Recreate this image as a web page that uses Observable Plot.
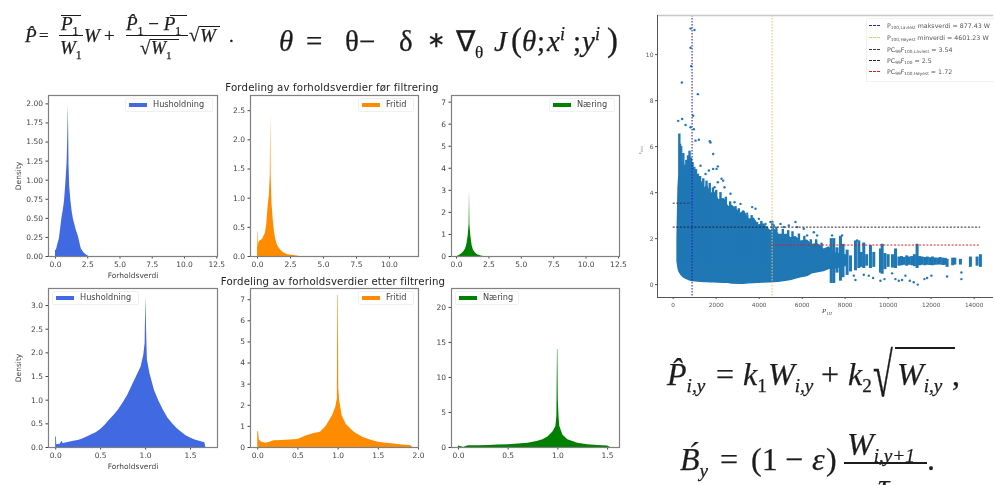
<!DOCTYPE html>
<html lang="no"><head><meta charset="utf-8">
<script src="https://cdn.jsdelivr.net/npm/d3@7"></script>
<script src="https://cdn.jsdelivr.net/npm/@observablehq/plot@0.6"></script>
<style>
html,body{margin:0;padding:0;background:#fff;width:994px;height:485px;overflow:hidden}
#root{position:relative;width:994px;height:485px;overflow:hidden;filter:blur(.5px);font-family:"DejaVu Sans",sans-serif;color:#333}
.p{position:absolute}.p svg{display:block;background:transparent;overflow:visible}
.abs{position:absolute;white-space:nowrap}
.title{font-size:10.2px;color:#222;transform:translateX(-50%);letter-spacing:.15px}
.lg{position:absolute;height:14px;background:#fff;border:1px solid #f0f0f0;border-radius:2px;font-size:8.2px;color:#444;box-sizing:border-box}
.lg i{position:absolute;left:3px;top:3.5px;width:18px;height:4px}
.lg span{position:absolute;left:27px;top:0;line-height:11px;white-space:nowrap}
.sc{position:absolute;left:866px;top:18px;width:127px;height:62px;background:#fff;border:1px solid #f2f2f2;font-size:6.3px;color:#555}
.sc div{position:absolute;left:20px;white-space:nowrap;line-height:9px}
.sc b{position:absolute;left:-18px;top:4px;width:11px;border-top:1.3px dashed}
.sc sub{font-size:4.3px;vertical-align:-1px;line-height:0}
.m{font-family:"Liberation Serif",serif;color:#1c1c1c;position:absolute;white-space:nowrap;line-height:1;-webkit-text-stroke:.25px #1c1c1c}
.m em{font-style:italic}.m sub,.m sup{line-height:0}
</style></head><body><div id="root"></div>
<script>
// ---- histograms before filtering
const husBeforeX=[0,.05,.1,.2,.3,.4,.5,.6,.7,.8,.9,.95,1,1.05,1.1,1.2,1.3,1.4,1.5,1.6,1.7,1.8,1.9,2,2.2,2.4,2.6];
const husBeforeY=[.08,.08,.1,.17,.23,.36,.5,.6,.72,.95,1.22,1.54,2,1.2,.92,.72,.58,.48,.42,.35,.3,.25,.17,.1,.05,.02,0];
const friBeforeX=[0,.03,.06,.1,.2,.3,.4,.5,.6,.7,.8,.9,.97,1,1.03,1.1,1.2,1.3,1.4,1.5,1.6,1.8,2,2.3,2.6,3,3.2];
const friBeforeY=[.42,.42,.15,.24,.27,.28,.3,.35,.4,.55,.85,1.05,1.4,2.45,1.4,.9,.6,.4,.28,.2,.16,.1,.06,.03,.02,.01,0];
const naeBeforeX=[.1,.2,.3,.4,.5,.6,.7,.8,.9,.97,1,1.03,1.1,1.2,1.3,1.4,1.5,1.6,1.7,1.8,1.9,2,2.1];
const naeBeforeY=[.02,.04,.08,.12,.18,.25,.35,.55,.95,1.45,3,1.45,.95,.5,.3,.2,.14,.09,.06,.04,.02,.01,0];
// ---- histograms after filtering
const husAfterX=[0,.008,.012,.05,.07,.085,.1,.15,.2,.25,.3,.35,.4,.45,.5,.55,.6,.65,.7,.75,.8,.85,.9,.95,.98,.995,1.003,1.012,1.02,1.05,1.1,1.15,1.2,1.25,1.3,1.35,1.4,1.45,1.5,1.55,1.6,1.66,1.67];
const husAfterY=[.22,.22,.06,.07,.13,.08,.09,.11,.13,.15,.18,.22,.27,.31,.38,.47,.58,.68,.8,.94,1.1,1.3,1.5,1.7,1.95,2.2,3.2,2.4,1.85,1.55,1.2,.97,.78,.62,.5,.4,.32,.25,.2,.16,.13,.1,0];
const friAfterX=[0,.01,.02,.05,.1,.15,.2,.3,.4,.5,.6,.7,.78,.85,.93,.97,.99,.996,1.002,1.008,1.02,1.05,1.1,1.2,1.3,1.4,1.5,1.6,1.7,1.8,1.9,1.93];
const friAfterY=[.75,.75,.35,.25,.2,.25,.32,.33,.36,.38,.55,.66,.72,1,1.5,1.9,2.3,7.2,7.2,2.8,2.2,1.5,1.1,.72,.5,.35,.25,.2,.16,.12,.1,0];
const naeAfterX=[0,.03,.05,.1,.2,.3,.4,.5,.6,.7,.8,.85,.9,.95,.98,.99,.996,1,1.004,1.012,1.02,1.05,1.1,1.2,1.3,1.4,1.5,1.53];
const naeAfterY=[.2,.1,0,.25,.25,.3,.35,.4,.5,.6,.9,1.1,1.5,2.2,3,4.5,14,14,7,4.3,3,1.8,1.1,.6,.4,.3,.2,0];
// ---- scatter: dense body, spikes, columns and single points
const bodyX=[217,263,290,310,400,496,650,806,900,1039,1150,1300,1450,1581,1750,1900,2100,2356,2550,2750,3131,3300,3500,3751,3950,4200,4526,4681,4900,5301,5456,5700,5921,6231,6450,6696,7006,7250,7471,7781,8091];
const bodyHi=[2,4.2,4.6,4.7,4.7,4.75,4.8,4.85,4.7,4.75,4.4,4.45,4.15,4.25,3.9,4.0,3.65,3.7,3.35,3.4,3.05,3.15,2.8,2.85,2.55,2.6,2.3,2.4,2.15,2.15,2.0,2.05,1.85,1.9,1.7,1.75,1.5,1.6,1.35,1.3,1.25];
const bodyLo=[1,.7,.6,.55,.42,.33,.25,.19,.17,.16,.15,.14,.13,.12,.11,.11,.1,.09,.09,.06,.05,.05,.07,.08,.09,.1,.11,.12,.14,.19,.21,.28,.33,.38,.5,.55,.6,.7,.7,.76,.84];
const spikeX=[285,320,370,420,470,530,610,690,760,830,900,980,1060,1150,1250,1400,1550,1700,1850,2000,2200,2450,2650,2900,3050,3250,3450,3650,3900,4100,4350,4610,4800,5100,5350,5550,5850,6100,6400,6650,6900];
const spikeTop=[6.55,6.1,6.0,5.3,5.7,5.2,5.4,5.6,5.8,5.5,5.3,5.1,5.0,4.8,4.7,4.6,4.5,4.4,4.2,4.1,4.0,3.8,3.6,3.4,3.3,3.2,3.0,3.0,2.7,2.75,2.5,2.75,2.5,2.4,2.35,2.3,2.2,2.1,1.95,1.95,1.8];
const spikeBase=1;
const colX=[7350,7471,7620,7781,7900,8091,8250,8478,8634,8750,8866,9000,9176,9331,9641,9720,9850,10000,10200,10340,10500,10620,10740,10860,10980,11100,11220,11346,11460,11580,11700,11820,11940,12060,12180,12300,12420,12540,12660,12741,13000,13100,13361,13826,14136,14291];
const colLo=[.05,.05,.5,.15,.3,.4,.55,.6,.7,.75,.7,.8,.7,.75,.5,.45,.65,.75,.72,.7,.8,.82,.84,.8,.84,.82,.78,.7,.82,.84,.82,.84,.83,.82,.84,.85,.85,.83,.84,.75,.82,.85,.85,.75,.8,.75];
const colHi=[2,2,1.6,2.1,1.75,1.5,1.25,1.9,1.9,1.4,1.8,1.3,1.7,1.4,1.55,1.75,1.35,1.3,1.3,1.55,1.2,1.22,1.18,1.25,1.2,1.22,1.3,1.75,1.22,1.2,1.18,1.2,1.17,1.2,1.16,1.15,1.18,1.15,1.14,1.1,1.15,1.15,1.1,1.2,1.2,1.3];
const dotX=[806,992,806,837,403,1147,930,232,418,574,806,961,1705,1736,1194,1039,1860,2077,2015,1860,1659,1504,1271,2248,2325,2077,1922,2387,2666,2852,3131,3674,3829,3441,3984,4294,4526,4681,4991,5146,5378,5688,5766,6076,6231,6541,6696,7393,7858,8556,8866,9718,11346,8401,8478,8866,9098,9300,9641,9827,10183,10338,10493,10648,10803,11005,11191,11377,11687,11811,12012,12741,13407,13407];
const dotY=[11.13,11.07,10.3,9.5,8.79,8.28,7.34,7.12,7.2,6.94,6.84,6.76,6.23,6.18,6.3,6.26,5.68,5.14,5.03,5.03,4.96,4.81,5.17,4.6,4.52,4.45,4.23,4.23,3.95,3.58,3.51,3.37,3.3,3.08,2.86,2.64,2.72,2.57,2.64,2.5,2.57,2.72,2.5,2.43,2.14,2.28,2.14,2.14,2.14,1.92,1.78,1.73,1.73,.39,.2,.43,.39,.29,.17,.24,.49,.24,.17,.2,.39,.17,.1,0,.24,.29,.39,.35,.53,.24];
const maxLow=877.43,minHigh=4601.23,pcLow=3.54,pcAll=2.5,pcHigh=1.72,dataEnd=14300;
const tenTicks=[0,2.5,5,7.5,10,12.5];
const root=document.getElementById("root");
const rows=(xs,ys)=>xs.map((x,i)=>({x,y:ys[i]}));
const F="DejaVu Sans";
function place(node,left,top){const d=document.createElement("div");d.className="p";d.style.left=left+"px";d.style.top=top+"px";d.append(node);root.append(d);}
function hist({l,t,w,h,ml,xd,yd,xt,yt,xf=".1f",yf=".1f",xs,ys,color,xl=null,yl=null}){
  const mr=14,mt=4,mb=24;
  place(Plot.plot({width:ml+w+mr,height:mt+h+mb,marginLeft:ml,marginRight:mr,marginTop:mt,marginBottom:mb,
    style:{fontFamily:F,fontSize:"7.5px",color:"#444",background:"transparent"},
    x:{domain:xd,ticks:xt,tickFormat:d3.format(xf),tickSize:2.5,tickPadding:3,label:xl,labelAnchor:"center",labelArrow:"none",labelOffset:21},
    y:{domain:yd,ticks:yt,tickFormat:d3.format(yf),tickSize:2.5,tickPadding:3,label:yl,labelAnchor:"center",labelArrow:"none",labelOffset:33},
    marks:[Plot.areaY(rows(xs,ys),{x:"x",y:"y",curve:"linear",fill:color,clip:true}),Plot.frame({stroke:"#808080",strokeWidth:1.2})]}),l-ml,t-mt);
}
hist({l:48,t:95,w:169,h:161,ml:48,xd:[-.54,12.56],yd:[0,2.11],xt:tenTicks,yt:[0,.25,.5,.75,1,1.25,1.5,1.75,2],yf:".2f",xs:husBeforeX,ys:husBeforeY,color:"#4169e1",xl:"Forholdsverdi",yl:"Density"});
hist({l:250,t:95,w:168,h:161,ml:30,xd:[-.53,12.2],yd:[0,2.76],xt:[0,2.5,5,7.5,10],yt:[0,.5,1,1.5,2,2.5],xs:friBeforeX,ys:friBeforeY,color:"#ff8c00"});
hist({l:451,t:95,w:168,h:161,ml:30,xd:[-.39,12.58],yd:[0,7.3],xt:tenTicks,yt:[0,1,2,3,4,5,6,7],yf:"d",xs:naeBeforeX,ys:naeBeforeY,color:"#008000"});
hist({l:48,t:288,w:169,h:159,ml:48,xd:[-.08,1.8],yd:[0,3.36],xt:[0,.5,1,1.5],yt:[0,.5,1,1.5,2,2.5,3],xs:husAfterX,ys:husAfterY,color:"#4169e1",xl:"Forholdsverdi",yl:"Density"});
hist({l:250,t:288,w:168,h:159,ml:30,xd:[-.09,2],yd:[0,7.53],xt:[0,.5,1,1.5,2],yt:[0,1,2,3,4,5,6,7],yf:"d",xs:friAfterX,ys:friAfterY,color:"#ff8c00"});
hist({l:451,t:288,w:168,h:159,ml:30,xd:[-.07,1.62],yd:[0,22.7],xt:[0,.5,1,1.5],yt:[0,5,10,15,20],yf:"d",xs:naeAfterX,ys:naeAfterY,color:"#008000"});
// scatter panel
const sxMin=-730,sxMax=14900,syMin=-.56,syMax=11.7,blue="#1f77b4";
const body=bodyX.map((x,i)=>({x,lo:bodyLo[i],hi:bodyHi[i]}));
const cols=colX.map((x,i)=>({x,lo:colLo[i],hi:colHi[i]}));
const spikes=spikeX.map((x,i)=>({x,lo:spikeBase,hi:spikeTop[i]}));
const dots=rows(dotX,dotY);
place(Plot.plot({width:338,height:312,marginLeft:2,marginRight:0,marginTop:2,marginBottom:28,
  style:{fontFamily:F,fontSize:"5.8px",color:"#555",background:"transparent"},
  x:{domain:[sxMin,sxMax],ticks:[0,2000,4000,6000,8000,10000,12000,14000],tickFormat:d3.format("d"),tickSize:2,tickPadding:3,label:null},
  y:{domain:[syMin,syMax],axis:null},
  marks:[
    Plot.axisY({ticks:[0,2,4,6,8,10],tickFormat:d3.format("d"),tickSize:2,tickPadding:2,label:null,anchor:"left",fontSize:6}),
    Plot.areaY(body,{x:"x",y1:"lo",y2:"hi",fill:blue,stroke:blue,strokeWidth:2}),
    Plot.ruleX(spikes,{x:"x",y1:"lo",y2:"hi",stroke:blue,strokeWidth:2.4}),
    Plot.ruleX(cols,{x:"x",y1:"lo",y2:"hi",stroke:blue,strokeWidth:3}),
    Plot.dot(dots,{x:"x",y:"y",r:1.2,fill:blue}),
    Plot.ruleX([maxLow],{stroke:"#2222cc",strokeDasharray:"1.6,1.4",strokeWidth:1.1}),
    Plot.ruleX([minHigh],{stroke:"#e8c46a",strokeDasharray:"1.6,1.4",strokeWidth:1}),
    Plot.ruleY([pcLow],{x1:0,x2:maxLow,stroke:"#335",strokeDasharray:"2,1.6",strokeWidth:1}),
    Plot.ruleY([pcAll],{x1:0,x2:dataEnd,stroke:"#223",strokeDasharray:"2,1.6",strokeWidth:1}),
    Plot.ruleY([pcHigh],{x1:minHigh,x2:dataEnd,stroke:"#d62020",strokeDasharray:"2,1.6",strokeWidth:1}),
    Plot.ruleY([syMax],{stroke:"#c8c8c8",strokeWidth:1.5}),
    Plot.ruleY([syMin],{stroke:"#555",strokeWidth:1}),
    Plot.ruleX([sxMin],{stroke:"#555",strokeWidth:1})
  ]}),655,13);
// html annotations
function html(s){const t=document.createElement("template");t.innerHTML=s;root.append(t.content);}
function lg(l,t,w,c,txt){html(`<div class="lg" style="left:${l}px;top:${t}px;width:${w}px"><i style="background:${c}"></i><span>${txt}</span></div>`);}
html(`<div class="abs title" style="left:332px;top:82px">Fordeling av forholdsverdier før filtrering</div>`);
html(`<div class="abs title" style="left:333px;top:276px">Fordeling av forholdsverdier etter filtrering</div>`);
lg(125,98,88,"#4169e1","Husholdning");lg(358,98,56,"#ff8c00","Fritid");lg(549,98,66,"#008000","Næring");
lg(52,291,87,"#4169e1","Husholdning");lg(358,291,56,"#ff8c00","Fritid");lg(455,291,64,"#008000","Næring");
html(`<div class="sc">
<div style="top:2px"><b style="border-color:#2222cc"></b>P<sub>100,Lavlest</sub> maksverdi = 877.43 W</div>
<div style="top:14px"><b style="border-color:#e8c46a"></b>P<sub>100,Høyest</sub> minverdi = 4601.23 W</div>
<div style="top:26px"><b style="border-color:#335"></b>PC<sub>99</sub>F<sub>100,Lavlest</sub> = 3.54</div>
<div style="top:37px"><b style="border-color:#223"></b>PC<sub>99</sub>F<sub>100</sub> = 2.5</div>
<div style="top:48px"><b style="border-color:#d62020"></b>PC<sub>99</sub>F<sub>100,Høyest</sub> = 1.72</div></div>`);
html(`<div class="abs" style="left:822px;top:307px;font:italic 7px 'Liberation Serif';color:#444">P<sub style="font-size:4.5px">1H</sub></div>`);
html(`<div class="abs" style="left:637px;top:147px;font-size:4px;color:#777;transform:rotate(-90deg)">F<sub style="font-size:3px">100</sub></div>`);
// formulas
function m(l,t,s,txt,extra=""){html(`<div class="m" style="left:${l}px;top:${t}px;font-size:${s}px;${extra}"><em>${txt}</em></div>`);}
function n(l,t,s,txt,extra=""){html(`<div class="m" style="left:${l}px;top:${t}px;font-size:${s}px;${extra}">${txt}</div>`);}
function bar(l,t,w,h=1){html(`<div style="position:absolute;left:${l}px;top:${t}px;width:${w}px;height:${h}px;background:#1c1c1c"></div>`);}
const sub=(a,s=.62)=>`<sub style="font-size:${s}em;font-style:normal">${a}</sub>`;
const isub=(a,s=.6)=>`<sub style="font-size:${s}em;font-style:italic">${a}</sub>`;
// eq 1
m(25,26,19,"P̂");n(39,27,17,"=");
m(61,14,19,"P"+sub("1"));bar(61,15,20);bar(59,35,24);m(60,38,19,"W"+sub("1"));
m(84,26,19,"W");n(104,26,19,"+");
m(126,14,19,"P̂"+sub("1")+"<span style='font-style:normal'> − </span>P"+sub("1"));bar(170,15,17);bar(126,35,62);
n(140,38,19,"√");bar(150,39,29);m(151,39,18,"W"+sub("1"));
n(189,25,19,"√");bar(199,26,21);m(200,26,19,"W");n(229,26,19,".");
// eq 2
m(279,27,29,"θ");n(306,27,29,"=");n(345,27,29,"θ−");n(399,27,29,"δ");n(427,29,22,"∗");
n(456,27,29,"∇"+sub("θ",.6));m(494,27,29,"J");n(511,24,33,"(");m(522,27,29,"θ");n(537,27,29,";");m(547,27,29,"x<sup style='font-size:.62em'>i</sup>");n(573,27,29,";");m(582,27,29,"y<sup style='font-size:.62em'>i</sup>");n(607,24,33,")");
// eq 3
m(667,358,32,"P̂"+isub("i,y"));n(716,358,32,"=");m(743,358,32,"k"+sub("1",.6));m(768,358,32,"W"+isub("i,y"));n(821,358,32,"+");m(848,358,32,"k"+sub("2",.6));
n(873,344,36,"√","transform:scaleY(1.72);transform-origin:top left");bar(895,347,60,1.5);m(897,358,32,"W"+isub("i,y"));n(952,358,32,",");
// eq 4
m(680,443,32,"B́"+isub("y"));n(720,443,32,"=");n(751,443,32,"(1");n(785,443,32,"−");m(812,443,32,"ε");n(826,443,32,")");
m(847,428,32,"W"+isub("i,y+1"));bar(844,462,83,1.6);m(878,469,32,"τ");n(927,443,32,".");
</script></body></html>
